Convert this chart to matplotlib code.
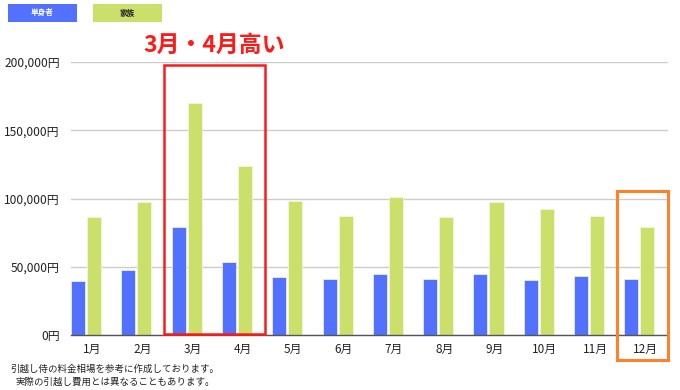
import matplotlib
matplotlib.use("Agg")
import matplotlib.pyplot as plt
from matplotlib.patches import Rectangle
import numpy as np

plt.rcParams['font.family'] = ['Noto Sans CJK JP', 'DejaVu Sans']

months = ["1月", "2月", "3月", "4月", "5月", "6月", "7月", "8月", "9月", "10月", "11月", "12月"]
single = [39600, 47400, 78900, 53700, 42700, 41000, 44500, 41000, 44900, 40300, 43200, 40800]
family = [86200, 97200, 170000, 124000, 98100, 87200, 100900, 86700, 97200, 92100, 87400, 79300]
series_names = ["単身者", "家族"]
yticks = [0, 50000, 100000, 150000, 200000]
ytick_labels = ["0円", "50,000円", "100,000円", "150,000円", "200,000円"]
note = "引越し侍の料金相場を参考に作成しております。\n実際の引越し費用とは異なることもあります。"
headline = "3月・4月高い"

blue = "#5271FF"
green = "#CBE06A"

fig = plt.figure(figsize=(6.8, 3.9), dpi=100)
ax = fig.add_axes([71/680, 1-335/390, (668-71)/680, (335-62)/390])

x = np.arange(len(months))
ax.bar(x, single, width=0.28, align='edge', color=blue, edgecolor="#e8ecff", linewidth=0.6, zorder=3)
ax.bar(x + 0.32, family, width=0.28, align='edge', color=green, edgecolor="#f2f7d8", linewidth=0.6, zorder=3)

ax.set_xlim(0, 597/50.3)
ax.set_ylim(0, 200000)
ax.set_yticks(yticks)
ax.set_yticklabels(ytick_labels, fontsize=8.6, color="#222222")
ax.set_xticks(x + 0.42)
ax.set_xticklabels(months, fontsize=8.5, color="#222222")
ax.tick_params(axis='both', length=0)
ax.tick_params(axis='y', pad=8)
ax.tick_params(axis='x', pad=6)
ax.grid(axis='y', color="#cccccc", linewidth=1, zorder=0)
for s in ["top", "right", "left"]:
    ax.spines[s].set_visible(False)
ax.spines["bottom"].set_color("#555555")
ax.spines["bottom"].set_linewidth(1)
ax.spines["bottom"].set_zorder(4)

def px_rect(x0, y0, x1, y1, color, lw):
    r = Rectangle((x0/680, 1-y1/390), (x1-x0)/680, (y1-y0)/390, transform=fig.transFigure,
                  fill=False, edgecolor=color, linewidth=lw, zorder=10)
    fig.add_artist(r)

px_rect(163.5, 65, 264.5, 334, "#FF1A1A", 1.8)
px_rect(616.5, 191, 667.5, 360, "#FF8228", 2.2)

fig.text(214.5/680, 1-45/390, headline, color="#FF1A1A", fontsize=16.5, fontweight='bold',
         ha='center', va='center')

# legend boxes
for (x0, col, name, tc) in [(8, blue, series_names[0], "white"), (93, green, series_names[1], "#222222")]:
    r = Rectangle((x0/680, 1-22/390), 69/680, 18/390, transform=fig.transFigure,
                  facecolor=col, edgecolor='none')
    fig.add_artist(r)
    fig.text((x0+34.5)/680, 1-13/390, name, color=tc, fontsize=5.5, ha='center', va='center',
             fontweight='bold')

fig.text(115/680, 1-375.5/390, note, fontsize=6.8, ha='center', va='center', color="#222222",
         linespacing=1.35)

fig.savefig("out.png", dpi=100, facecolor="white")
